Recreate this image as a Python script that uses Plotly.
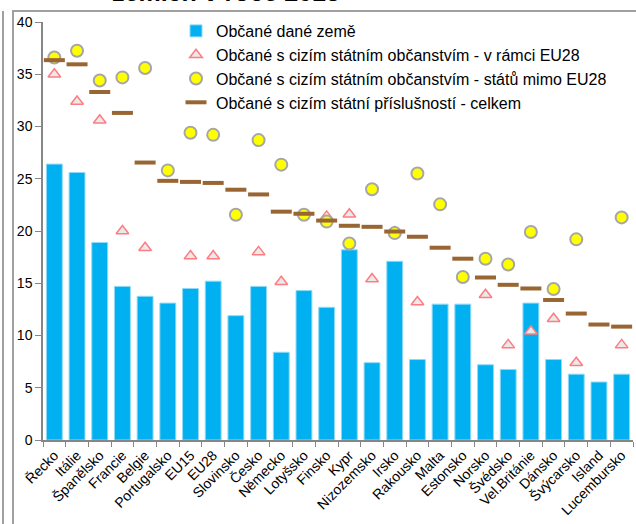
import plotly.graph_objects as go

categories = ["Řecko", "Itálie", "Španělsko", "Francie", "Belgie", "Portugalsko", "EU15", "EU28",
              "Slovinsko", "Česko", "Německo", "Lotyšsko", "Finsko", "Kypr", "Nizozemsko", "Irsko",
              "Rakousko", "Malta", "Estonsko", "Norsko", "Švédsko", "Vel.Británie", "Dánsko",
              "Švýcarsko", "Island", "Lucembursko"]

citizens = [26.4, 25.6, 18.9, 14.7, 13.75, 13.1, 14.5, 15.2, 11.9, 14.7, 8.4, 14.3, 12.7, 18.2,
            7.4, 17.1, 7.7, 13.0, 13.0, 7.2, 6.75, 13.1, 7.7, 6.3, 5.55, 6.3]

foreign_eu28 = [35.0, 32.4, 30.6, 20.0, 18.4, None, 17.6, 17.6, None, 18.0, 15.15, None, 21.4, 21.6,
                15.4, 19.9, 13.2, None, None, 13.9, 9.1, 10.4, 11.6, 7.4, None, 9.1]

foreign_non_eu28 = [36.6, 37.25, 34.4, 34.7, 35.6, 25.8, 29.4, 29.2, 21.55, 28.7, 26.35, 21.55, 20.9,
                    18.8, 24.0, 19.8, 25.5, 22.55, 15.6, 17.35, 16.8, 19.9, 14.45, 19.2, None, 21.3]

foreign_total = [36.35, 35.95, 33.3, 31.3, 26.55, 24.8, 24.7, 24.6, 23.95, 23.5, 21.85, 21.65, 21.0,
                 20.5, 20.4, 19.95, 19.45, 18.4, 17.35, 15.55, 14.85, 14.5, 13.4, 12.1, 11.05, 10.85]

series_names = ["Občané dané země",
                "Občané s cizím státním občanstvím - v rámci EU28",
                "Občané s cizím státním občanstvím - států mimo EU28",
                "Občané s cizím státní příslušností - celkem"]

title_text = "zemích v roce 2013"

W, H = 636, 524
ML, MR, MT, MB = 43, 3, 22, 84
PW, PH = W - ML - MR, H - MT - MB


def fx(px):
    return (px - ML) / PW


def fy(py):
    return (H - MB - py) / PH


FONT = "Arial, Liberation Sans, sans-serif"

fig = go.Figure()
fig.add_trace(go.Bar(x=categories, y=citizens, name=series_names[0],
                     marker=dict(color="#00B0F0", line=dict(color="#8FDAF6", width=1))))
fig.add_trace(go.Scatter(x=categories, y=foreign_eu28, name=series_names[1], mode="markers",
                         marker=dict(symbol="triangle-up", size=11, color="#EAEAEA",
                                     line=dict(color="#FF7C80", width=1.5))))
fig.add_trace(go.Scatter(x=categories, y=foreign_non_eu28, name=series_names[2], mode="markers",
                         marker=dict(symbol="circle", size=12, color="#FFFF00",
                                     line=dict(color="#A6A6A6", width=2))))
fig.add_trace(go.Scatter(x=categories, y=foreign_total, name=series_names[3], mode="markers",
                         marker=dict(symbol="line-ew", size=15, color="#996633",
                                     line=dict(color="#996633", width=4))))

line_col = "#A0A0A0"
shapes = [
    dict(type="line", xref="paper", yref="paper", x0=fx(3), x1=fx(3), y0=fy(11), y1=fy(530),
         line=dict(color=line_col, width=2)),
    dict(type="line", xref="paper", yref="paper", x0=fx(13), x1=fx(13), y0=fy(11), y1=fy(530),
         line=dict(color=line_col, width=2)),
    dict(type="line", xref="paper", yref="paper", x0=fx(12), x1=fx(640), y0=fy(11), y1=fy(11),
         line=dict(color=line_col, width=2)),
]

fig.update_layout(
    width=W, height=H,
    margin=dict(l=ML, r=MR, t=MT, b=MB, autoexpand=False),
    paper_bgcolor="white", plot_bgcolor="white",
    font=dict(family=FONT, color="black"),
    bargap=0.3,
    showlegend=True,
    legend=dict(x=fx(176), y=fy(14), xanchor="left", yanchor="top",
                bgcolor="rgba(0,0,0,0)", font=dict(size=16, family=FONT, color="black"),
                traceorder="normal"),
    shapes=shapes,
    annotations=[dict(text="<b>" + title_text + "</b>", xref="paper", yref="paper",
                      x=fx(226), y=fy(8), xanchor="center", yanchor="bottom",
                      showarrow=False, font=dict(size=25, family=FONT, color="black"))],
)

fig.update_xaxes(type="category", range=[-0.5, len(categories) - 0.5], tickangle=-45,
                 ticks="outside", tickson="boundaries",
                 ticklen=5, tickcolor="#868686", showline=True, linecolor="#868686", linewidth=1.5,
                 tickfont=dict(size=14, family=FONT, color="black"), showgrid=False)
fig.update_yaxes(range=[0, 40], dtick=5, ticks="outside", ticklen=6, tickcolor="#868686",
                 showline=True, linecolor="#868686", linewidth=1.5, showgrid=False, zeroline=False,
                 tickfont=dict(size=14, family=FONT, color="black"))

fig.write_html("out.html", config={"displayModeBar": False},
               post_script="document.body.style.margin='0';")
